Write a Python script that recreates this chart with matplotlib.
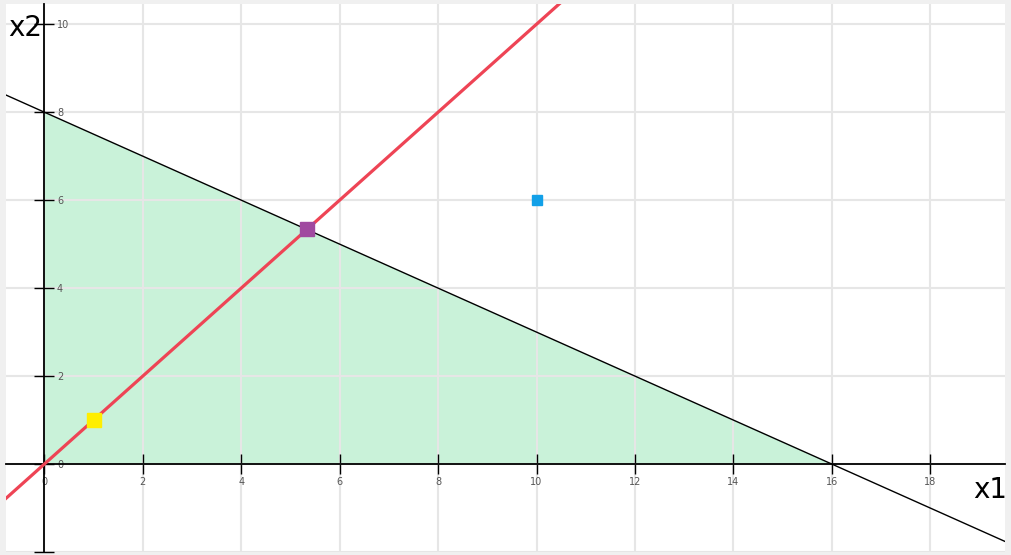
import numpy as np
import matplotlib.pyplot as plt

# область допустимых решений: x1 + 2*x2 <= 16, x1 >= 0, x2 >= 0
region_x1 = [0, 16, 0]
region_x2 = [0, 0, 8]

# прямая ограничения x1 + 2*x2 = 16 и прямая x2 = x1
limit_a, limit_b, limit_c = 1, 2, 16
ray_k = 1

# точки
optimum = (16 / 3, 16 / 3)
start_point = (1, 1)
outside_point = (10, 6)

x_ticks = [0, 2, 4, 6, 8, 10, 12, 14, 16, 18]
y_ticks = [-2, 0, 2, 4, 6, 8, 10]
y_labels = ['', '0', '2', '4', '6', '8', '10']

xmin, xmax = -0.78, 19.52
ymin, ymax = -1.99, 10.46

fig = plt.figure(figsize=(10.12, 5.55), dpi=100, facecolor='#f0f0f0')
ax = fig.add_axes([6 / 1012, 3 / 555, 999 / 1012, 548 / 555])
ax.set_facecolor('white')
ax.set_xlim(xmin, xmax)
ax.set_ylim(ymin, ymax)

# сетка
ax.set_xticks(x_ticks)
ax.set_yticks(y_ticks)
ax.set_yticklabels(y_labels)
ax.grid(True, color='#e6e6e6', linewidth=1.5)
ax.set_axisbelow(True)

# оси через начало координат
for s in ['top', 'left']:
    ax.spines[s].set_visible(False)
ax.spines['bottom'].set_position(('data', 0))
ax.spines['right'].set_position(('data', 0))
ax.spines['bottom'].set_linewidth(1.3)
ax.spines['right'].set_linewidth(1.3)
ax.spines['bottom'].set_zorder(3)
ax.spines['right'].set_zorder(3)
ax.xaxis.set_ticks_position('bottom')
ax.yaxis.set_ticks_position('right')
ax.tick_params(axis='both', direction='inout', length=14, width=1,
               labelsize=7, labelcolor='#555555', pad=2)

ax.fill(region_x1, region_x2, color='#c9f2d9', zorder=0.3, linewidth=0)

xs = np.array([xmin, xmax])
ax.plot(xs, (limit_c - limit_a * xs) / limit_b, color='black', linewidth=1, zorder=4)
ax.plot(xs, ray_k * xs, color='#ee4455', linewidth=2.3, zorder=5)

ax.plot(*optimum, marker='s', markersize=10, color='#a04aa0', zorder=6)
ax.plot(*start_point, marker='s', markersize=10, color='#ffee00', zorder=6)
ax.plot(*outside_point, marker='s', markersize=6.5, color='#12a0e8', zorder=6)

fig.text(8 / 1012, 1 - 36 / 555, 'x2', fontsize=20, color='black')
fig.text(973 / 1012, 1 - 498 / 555, 'x1', fontsize=20, color='black')

fig.savefig('out.png', dpi=100, facecolor=fig.get_facecolor())
